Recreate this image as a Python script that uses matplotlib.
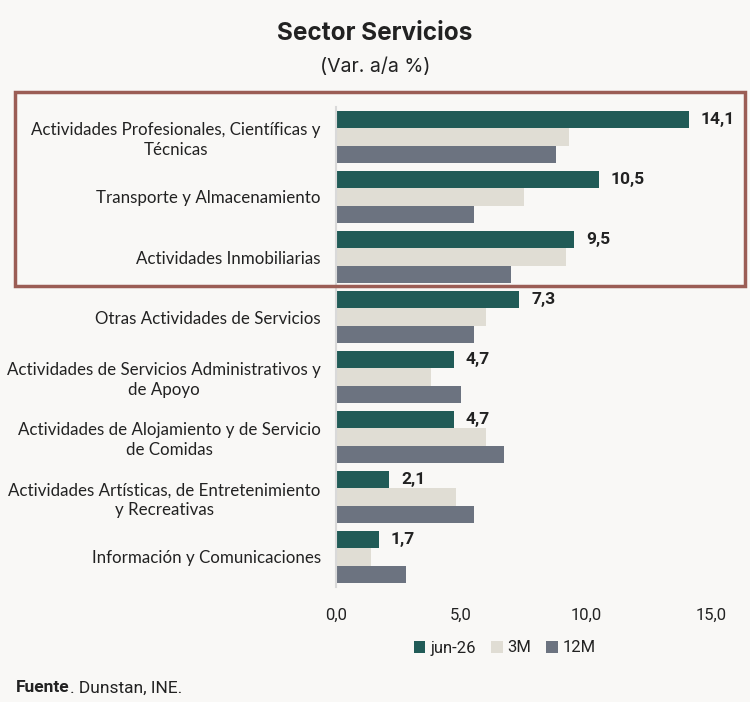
import numpy as np
import matplotlib.pyplot as plt
from matplotlib.patches import Rectangle

categorias = [
    "Actividades Profesionales, Científicas y\nTécnicas",
    "Transporte y Almacenamiento",
    "Actividades Inmobiliarias",
    "Otras Actividades de Servicios",
    "Actividades de Servicios Administrativos y\nde Apoyo",
    "Actividades de Alojamiento y de Servicio\nde Comidas",
    "Actividades Artísticas, de Entretenimiento\ny Recreativas",
    "Información y Comunicaciones",
]
jun26 = [14.1, 10.5, 9.5, 7.3, 4.7, 4.7, 2.1, 1.7]
m3 = [9.3, 7.5, 9.2, 6.0, 3.8, 6.0, 4.8, 1.4]
m12 = [8.8, 5.5, 7.0, 5.5, 5.0, 6.7, 5.5, 2.8]
series = ["jun-26", "3M", "12M"]
ticks = [0, 5, 10, 15]

fondo = "#f9f8f6"
colores = ["#215b57", "#e0ddd4", "#6c7380"]
texto = "#222222"

fig = plt.figure(figsize=(7.5, 7.02), dpi=100, facecolor=fondo)
ax = fig.add_axes([336/750, 1-587/702, (711-336)/750, 480/702])
ax.set_facecolor(fondo)

y = np.arange(len(categorias))
h = 0.29
for k, (vals, nombre, c) in enumerate(zip([jun26, m3, m12], series, colores)):
    ax.barh(y + (k-1)*h, vals, height=h, color=c, label=nombre)

for yi, v in zip(y, jun26):
    ax.text(v + 0.5, yi - h, f"{v:.1f}".replace(".", ","), va="center", ha="left",
            fontsize=12.5, fontweight="bold", color=texto, family="Roboto")

ax.set_xlim(0, 15)
ax.set_ylim(len(categorias)-0.5, -0.5)
ax.set_yticks(y)
ax.set_yticklabels(categorias, fontsize=12.2, color=texto, family="Lato",
                   multialignment="center", linespacing=1.25)
ax.set_xticks(ticks)
ax.set_xticklabels([f"{t:.1f}".replace(".", ",") for t in ticks], fontsize=12, color=texto, family="Roboto")
ax.tick_params(axis="both", length=0)
ax.tick_params(axis="y", pad=11)
ax.tick_params(axis="x", pad=15)
for s in ["top", "right", "bottom"]:
    ax.spines[s].set_visible(False)
ax.spines["left"].set_color("#d9d9d9")
ax.spines["left"].set_linewidth(1.5)

leg = fig.legend(loc="center", bbox_to_anchor=(505/750, 1-648/702), ncol=3, frameon=False,
                 handlelength=0.7, handleheight=0.7, handletextpad=0.3,
                 columnspacing=0.9, prop={"family": "Roboto", "size": 12})
for t in leg.get_texts():
    t.set_color(texto)

fig.text(0.5, 1-33/702, "Sector Servicios", ha="center", va="center", fontsize=17.5,
         fontweight="bold", color=texto, family="Inter")
fig.text(0.5, 1-67/702, "(Var. a/a %)", ha="center", va="center", fontsize=14,
         color=texto, family="Inter")

fig.patches.append(Rectangle((15/750, 1-286/702), (745-15)/750, (286-92)/702,
                             transform=fig.transFigure, fill=False,
                             edgecolor="#9b5d55", linewidth=2.5))

t1 = fig.text(16/750, 1-688/702, "Fuente", ha="left", va="center", fontsize=12.5,
              fontweight="bold", color=texto, family="Roboto")
fig.canvas.draw()
bb = t1.get_window_extent()
fig.text(bb.x1/750, 1-688/702, ". Dunstan, INE.", ha="left", va="center", fontsize=12.5,
         color=texto, family="Roboto")

fig.savefig("out.png", dpi=100, facecolor=fondo)
